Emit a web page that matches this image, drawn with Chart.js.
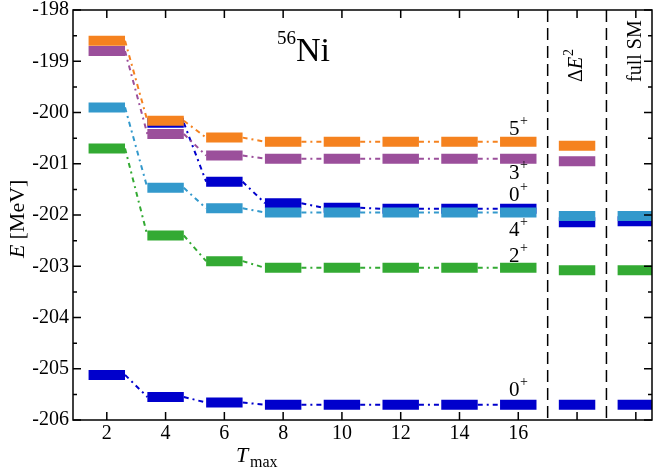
<!DOCTYPE html>
<html>
<head>
<meta charset="utf-8">
<script src="https://cdn.jsdelivr.net/npm/chart.js@4/dist/chart.umd.min.js"></script>
<style>body{margin:0;background:#fff}</style>
</head>
<body>
<canvas id="c" width="664" height="472"></canvas>
<script>
const tmax = [2, 4, 6, 8, 10, 12, 14, 16];
const xTickLabels = ['2', '4', '6', '8', '10', '12', '14', '16'];
const yTicks = [-198, -199, -200, -201, -202, -203, -204, -205, -206];
// energies per state for Tmax = 2..16, then the dE^2 extrapolation and full SM
const e5p = [-198.6, -200.16, -200.49, -200.57, -200.57, -200.57, -200.57, -200.57];
const e3p = [-198.8, -200.42, -200.84, -200.9, -200.9, -200.9, -200.9, -200.9];
const e0p2 = [null, -200.2, -201.35, -201.77, -201.86, -201.88, -201.88, -201.88];
const e4p = [-199.9, -201.47, -201.87, -201.95, -201.95, -201.95, -201.95, -201.95];
const e2p = [-200.7, -202.4, -202.9, -203.03, -203.03, -203.03, -203.03, -203.03];
const e0p1 = [-205.12, -205.55, -205.66, -205.7, -205.7, -205.7, -205.7, -205.7];
const dE2 = { e5p: -200.65, e3p: -200.95, e0p2: -202.14, e4p: -202.02, e2p: -203.08, e0p1: -205.7 };
const fullSM = { e5p: null, e3p: null, e0p2: -202.12, e4p: -202.02, e2p: -203.08, e0p1: -205.7 };

const states = [
  { key: 'e5p', vals: e5p, color: '#f5821f', label: ['5', 128] },
  { key: 'e3p', vals: e3p, color: '#9b4f9b', label: ['3', 172] },
  { key: 'e4p', vals: e4p, color: '#3399cc', label: ['4', 229] },
  { key: 'e0p2', vals: e0p2, color: '#0000cc', label: ['0', 194] },
  { key: 'e2p', vals: e2p, color: '#33aa33', label: ['2', 255] },
  { key: 'e0p1', vals: e0p1, color: '#0000cc', label: ['0', 389] }
];
const hw = 0.62;

const datasets = [];
states.forEach(s => {
  const bars = [], links = [];
  const xs = tmax.concat([18, 20]);
  const ys = s.vals.concat([dE2[s.key], fullSM[s.key]]);
  xs.forEach((x, i) => {
    if (ys[i] == null) return;
    bars.push({ x: x - hw, y: ys[i] }, { x: x + hw, y: ys[i] }, { x: x + hw + 0.01, y: null });
  });
  for (let i = 0; i < tmax.length - 1; i++) {
    if (s.vals[i] == null || s.vals[i + 1] == null) continue;
    links.push({ x: tmax[i] + hw, y: s.vals[i] }, { x: tmax[i + 1] - hw, y: s.vals[i + 1] }, { x: tmax[i + 1] - hw + 0.01, y: null });
  }
  datasets.push({ data: links, borderColor: s.color, borderWidth: 2, borderDash: [5, 4, 2, 4], pointRadius: 0, spanGaps: false, order: 2 });
  datasets.push({ data: bars, borderColor: s.color, borderWidth: 10, borderCapStyle: 'butt', pointRadius: 0, spanGaps: false, order: 1 });
});

const serif = '"Liberation Serif", "DejaVu Serif", serif';

const decor = {
  id: 'decor',
  afterDraw(chart) {
    const { ctx, chartArea: a, scales: { x, y } } = chart;
    ctx.save();
    ctx.strokeStyle = '#000';
    ctx.lineWidth = 1.5;
    ctx.strokeRect(a.left, a.top, a.right - a.left, a.bottom - a.top);
    ctx.beginPath();
    for (let t = 2; t <= 20; t += 2) {
      const px = x.getPixelForValue(t);
      ctx.moveTo(px, a.bottom); ctx.lineTo(px, a.bottom - 8);
      ctx.moveTo(px, a.top); ctx.lineTo(px, a.top + 8);
    }
    for (let v = -206; v <= -198; v += 0.5) {
      const py = y.getPixelForValue(v);
      const len = Number.isInteger(v) ? 8 : 4;
      ctx.moveTo(a.left, py); ctx.lineTo(a.left + len, py);
      ctx.moveTo(a.right, py); ctx.lineTo(a.right - len, py);
    }
    ctx.stroke();
    ctx.setLineDash([12, 6]);
    ctx.beginPath();
    [17, 19].forEach(v => { const px = x.getPixelForValue(v); ctx.moveTo(px, a.top); ctx.lineTo(px, a.bottom); });
    ctx.stroke();
    ctx.setLineDash([]);
    ctx.fillStyle = '#000';
    ctx.font = '20px ' + serif;
    ctx.textAlign = 'center'; ctx.textBaseline = 'top';
    tmax.forEach((t, i) => ctx.fillText(xTickLabels[i], x.getPixelForValue(t), a.bottom + 4));
    ctx.textAlign = 'right'; ctx.textBaseline = 'middle';
    yTicks.forEach(v => ctx.fillText(String(v), a.left - 4, y.getPixelForValue(v)));
    ctx.textAlign = 'left'; ctx.textBaseline = 'alphabetic';
    ctx.font = 'italic 22px ' + serif;
    ctx.fillText('T', 236, 462);
    ctx.font = '16px ' + serif;
    ctx.fillText('max', 250, 467);
    ctx.save();
    ctx.translate(24, 258); ctx.rotate(-Math.PI / 2);
    ctx.font = 'italic 22px ' + serif;
    ctx.fillText('E', 0, 0);
    ctx.font = '22px ' + serif;
    ctx.fillText(' [MeV]', 13, 0);
    ctx.restore();
    ctx.font = '19px ' + serif;
    ctx.fillText('56', 277, 44);
    ctx.font = '34px ' + serif;
    ctx.fillText('Ni', 296, 61);
    states.forEach(s => {
      ctx.font = '21px ' + serif;
      ctx.fillText(s.label[0], 509, s.label[1] + 7);
      ctx.font = '14px ' + serif;
      ctx.fillText('+', 520, s.label[1] - 3);
    });
    ctx.save();
    ctx.translate(582, 82); ctx.rotate(-Math.PI / 2);
    ctx.font = '20px ' + serif;
    ctx.fillText('Δ', 0, 0);
    ctx.font = 'italic 20px ' + serif;
    ctx.fillText('E', 13, 0);
    ctx.font = '14px ' + serif;
    ctx.fillText('2', 26, -9);
    ctx.restore();
    ctx.save();
    ctx.translate(641, 82); ctx.rotate(-Math.PI / 2);
    ctx.font = '20px ' + serif;
    ctx.fillText('full SM', 0, 0);
    ctx.restore();
    ctx.restore();
  }
};

new Chart(document.getElementById('c'), {
  type: 'line',
  data: { datasets },
  options: {
    responsive: false,
    animation: false,
    layout: { padding: { left: 73, top: 10, right: 12, bottom: 52 } },
    plugins: { legend: { display: false }, tooltip: { enabled: false } },
    scales: {
      x: { type: 'linear', min: 0.85, max: 20.55, display: false },
      y: { min: -206, max: -198, display: false }
    }
  },
  plugins: [decor]
});
</script>
</body>
</html>
